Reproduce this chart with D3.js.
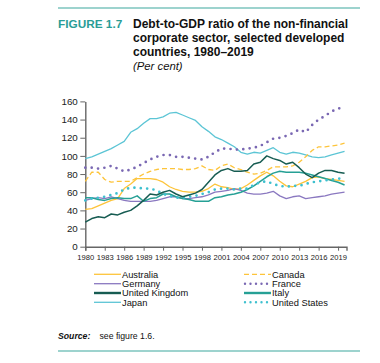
<!doctype html>
<html lang="en">
<head>
<meta charset="utf-8">
<title>Debt-to-GDP ratio of the non-financial corporate sector</title>
<script src="https://cdnjs.cloudflare.com/ajax/libs/d3/7.8.5/d3.min.js"></script>
<style>
  body { margin: 0; background: #fff; }
  svg text { font-family: "Liberation Sans", Arial, sans-serif; }
</style>
</head>
<body>
<svg id="chart" width="380" height="363"></svg>
<script>
// years 1980..2020 (last point is early 2020)
const years = d3.range(1980, 2021);
const tickYears = d3.range(1980, 2020, 3);
const yTicks = [0, 20, 40, 60, 80, 100, 120, 140, 160];

const australia = [41,42,45,48,51,53,64,69,75,75,75,74,71,66,63,61,60,60,61,64,69,66,65,63,64,68,73,78,82,78,72,67,66,69,72,76,77,75,74,73,72];
const canada    = [72,82,82,74,71,72,72,72,76,80,83,85,86,86,86,85,85,86,89,85,84,89,91,87,85,82,80,81,84,88,88,88,89,93,99,106,110,110,111,112,114];
const germany   = [51,53,54,53,55,53,51,50,50,50,50,51,53,55,55,53,53,54,55,57,60,61,62,64,62,59,58,58,59,61,56,53,55,56,53,54,55,56,58,59,60];
const france    = [87,87,86,87,89,86,83,85,88,92,96,99,101,101,99,99,98,97,96,99,104,108,108,107,107,108,109,111,115,119,120,122,125,129,126,134,140,144,149,152,154];
const uk        = [27,31,33,32,36,35,38,40,45,51,58,57,60,62,58,55,57,59,63,71,79,84,86,83,83,84,91,93,100,97,95,91,93,87,80,76,81,84,84,82,81];
const italy     = [54,54,52,51,53,54,53,53,56,50,53,54,58,58,55,53,52,50,50,50,54,55,57,58,60,63,67,72,77,81,83,82,82,82,81,79,77,75,73,71,68];
const japan     = [97,99,102,105,108,112,116,126,130,136,141,141,143,147,148,145,142,139,132,127,121,118,114,110,104,102,104,103,106,109,104,102,104,103,101,99,98,99,101,103,105];
const us        = [51,53,54,55,57,59,63,65,65,64,64,62,58,56,54,54,55,56,58,60,63,64,64,63,64,64,68,71,72,69,67,66,67,67,69,71,72,73,74,75,75];

const series = [
  {name: "Australia",      values: australia, color: "#FDC43A", dash: null,  width: 1.3},
  {name: "Canada",         values: canada,    color: "#FDC43A", dash: "5,3", width: 1.3},
  {name: "Germany",        values: germany,   color: "#8A78C0", dash: null,  width: 1.3},
  {name: "France",         values: france,    color: "#7A68B3", dash: "dot", width: 1.3},
  {name: "United Kingdom", values: uk,        color: "#175C52", dash: null,  width: 1.5},
  {name: "Italy",          values: italy,     color: "#26A095", dash: null,  width: 1.5},
  {name: "Japan",          values: japan,     color: "#5CC5D5", dash: null,  width: 1.3},
  {name: "United States",  values: us,        color: "#3EC0CF", dash: "dot", width: 1.3}
];

const svg = d3.select("#chart");
const teal = "#2A9D96";

// header / footer rules
svg.append("line").attr("x1", 58).attr("x2", 360).attr("y1", 8).attr("y2", 8)
  .attr("stroke", "#7CC4BE").attr("stroke-width", 1.6);
svg.append("line").attr("x1", 58).attr("x2", 360).attr("y1", 351).attr("y2", 351)
  .attr("stroke", "#7CC4BE").attr("stroke-width", 1.6);

svg.append("text").attr("x", 58).attr("y", 27.8)
  .attr("font-size", 11.8).attr("font-weight", "bold").attr("fill", teal)
  .text("FIGURE 1.7");
const titleLines = ["Debt-to-GDP ratio of the non-financial", "corporate sector, selected developed", "countries, 1980\u20132019"];
titleLines.forEach((t, i) => {
  svg.append("text").attr("x", 133).attr("y", 27.8 + i * 14.2)
    .attr("font-size", 12).attr("font-weight", "bold").attr("fill", "#111")
    .text(t);
});
svg.append("text").attr("x", 133).attr("y", 69.5)
  .attr("font-size", 11.3).attr("font-style", "italic").attr("fill", "#111")
  .text("(Per cent)");

// scales
const x = d3.scaleLinear().domain([1980, 2020.3]).range([85.3, 346.5]);
const y = d3.scaleLinear().domain([0, 160]).range([246.7, 101.4]);

// y axis
const yAxis = svg.append("g").attr("transform", "translate(85.3,0)")
  .call(d3.axisLeft(y).tickValues(yTicks).tickSize(5).tickSizeOuter(0).tickPadding(2.5));
yAxis.select(".domain").attr("stroke", "#666").attr("stroke-width", 1.4);
yAxis.selectAll(".tick line").attr("stroke", "#666");
yAxis.selectAll("text").attr("font-size", 9.8).attr("fill", "#222")
  .attr("font-family", "'Liberation Sans', Arial, sans-serif");

// x axis
const xAxis = svg.append("g").attr("transform", "translate(0,246.7)")
  .call(d3.axisBottom(x).tickValues(tickYears).tickFormat(d3.format("d")).tickSizeOuter(0).tickSize(4).tickPadding(4));
xAxis.select(".domain").attr("stroke", "#666").attr("stroke-width", 1.4);
xAxis.selectAll(".tick line").attr("stroke", "#666");
xAxis.selectAll("text").attr("font-size", 7.6).attr("fill", "#222")
  .attr("font-family", "'Liberation Sans Narrow', 'Liberation Sans', Arial, sans-serif");

// lines
const line = d3.line().x((d, i) => x(years[i])).y(d => y(d)).curve(d3.curveLinear);
const drawOrder = ["Japan", "France", "Canada", "Australia", "Germany", "Italy", "United States", "United Kingdom"];
drawOrder.forEach(n => {
  const s = series.find(d => d.name === n);
  const p = svg.append("path").attr("d", line(s.values))
    .attr("fill", "none").attr("stroke", s.color)
    .attr("stroke-linejoin", "round");
  if (s.dash === "dot") {
    p.attr("stroke-width", 2.7).attr("stroke-dasharray", "0,6.4").attr("stroke-linecap", "round");
  } else {
    p.attr("stroke-width", s.width);
    if (s.dash) p.attr("stroke-dasharray", s.dash);
  }
});

// legend
const legendRows = [274.3, 283.7, 293, 302.3];
series.forEach((s, i) => {
  const col = i % 2, row = Math.floor(i / 2);
  const x0 = col === 0 ? 94 : 244;
  const yy = legendRows[row];
  const l = svg.append("line").attr("x1", x0).attr("x2", x0 + 27).attr("y1", yy).attr("y2", yy)
    .attr("stroke", s.color);
  if (s.dash === "dot") {
    l.attr("stroke-width", 2.4).attr("stroke-dasharray", "0,5.5").attr("stroke-linecap", "round")
      .attr("x1", x0 + 1).attr("x2", x0 + 28);
  } else {
    l.attr("stroke-width", s.name === "United Kingdom" || s.name === "Italy" ? 2.4 : 1.3);
    if (s.dash) l.attr("stroke-dasharray", s.dash);
  }
  svg.append("text").attr("x", x0 + 28).attr("y", yy + 3.3)
    .attr("font-size", 9.3).attr("fill", "#111").text(s.name);
});

// source
svg.append("text").attr("x", 58).attr("y", 338.5)
  .attr("font-size", 8.7).attr("font-weight", "bold").attr("font-style", "italic").attr("fill", "#111")
  .text("Source:");
svg.append("text").attr("x", 99.5).attr("y", 338.5)
  .attr("font-size", 8.7).attr("fill", "#111")
  .text("see figure 1.6.");
</script>
</body>
</html>
